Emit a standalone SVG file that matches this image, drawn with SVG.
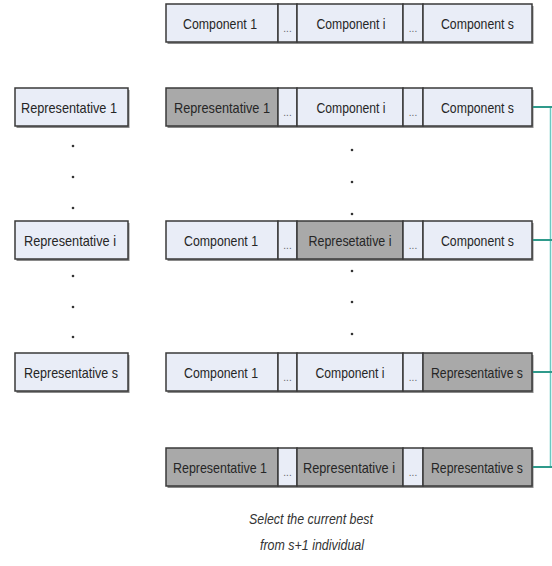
<svg xmlns="http://www.w3.org/2000/svg" width="552" height="566" viewBox="0 0 552 566">
<style>
.bg{fill:#ffffff}
.sh{fill:#8a8a8a}
.lt{fill:#e9edf7;stroke:#3a3a3a;stroke-width:1.5}
.dk{fill:#a9a9a9;stroke:#3a3a3a;stroke-width:1.5}
.t{font-family:"Liberation Sans",Arial,sans-serif;font-size:14.5px;fill:#262626;text-anchor:middle}
.el{font-family:"Liberation Sans",Arial,sans-serif;font-size:10px;fill:#666;text-anchor:middle}
.cap{font-family:"Liberation Sans",Arial,sans-serif;font-size:14px;font-style:italic;fill:#333;text-anchor:middle}
.dot{fill:#333}
.con{stroke:#2f9a8b;stroke-width:2;fill:none}
.conv{stroke:#6cc9c2;stroke-width:1.5;fill:none}
</style>
<rect class="bg" width="552" height="566"/>

<!-- Left representative boxes -->
<g id="left-rep-1">
<rect class="sh" x="16.5" y="90" width="113" height="38"/>
<rect class="lt" x="15" y="88" width="113" height="38"/>
<text class="t" x="69" y="112.5" textLength="96" lengthAdjust="spacingAndGlyphs">Representative 1</text>
</g>
<g id="left-rep-i">
<rect class="sh" x="16.5" y="223" width="113" height="38"/>
<rect class="lt" x="15" y="221" width="113" height="38"/>
<text class="t" x="70" y="245.5" textLength="92" lengthAdjust="spacingAndGlyphs">Representative i</text>
</g>
<g id="left-rep-s">
<rect class="sh" x="16.5" y="355" width="113" height="38"/>
<rect class="lt" x="15" y="353" width="113" height="38"/>
<text class="t" x="71" y="377.5" textLength="94" lengthAdjust="spacingAndGlyphs">Representative s</text>
</g>

<!-- Left dots -->
<g id="left-dots">
<circle class="dot" cx="73" cy="146" r="1.3"/>
<circle class="dot" cx="73" cy="177" r="1.3"/>
<circle class="dot" cx="73" cy="208" r="1.3"/>
<circle class="dot" cx="73" cy="276" r="1.3"/>
<circle class="dot" cx="73" cy="307" r="1.3"/>
<circle class="dot" cx="73" cy="337" r="1.3"/>
</g>

<!-- Row 1 -->
<g id="row-1">
<rect class="sh" x="167.5" y="6" width="366" height="38"/>
<rect class="lt" x="166" y="4" width="112" height="38"/>
<rect class="lt" x="278" y="4" width="19" height="38"/>
<rect class="lt" x="297" y="4" width="106" height="38"/>
<rect class="lt" x="403" y="4" width="20" height="38"/>
<rect class="lt" x="423" y="4" width="109" height="38"/>
<text class="t" x="220" y="28.5" textLength="74" lengthAdjust="spacingAndGlyphs">Component 1</text>
<text class="el" x="287.5" y="32">...</text>
<text class="t" x="351" y="28.5" textLength="69" lengthAdjust="spacingAndGlyphs">Component i</text>
<text class="el" x="413" y="32">...</text>
<text class="t" x="477.5" y="28.5" textLength="73" lengthAdjust="spacingAndGlyphs">Component s</text>
</g>

<!-- Row 2 -->
<g id="row-2">
<rect class="sh" x="167.5" y="90" width="366" height="38"/>
<rect class="dk" x="166" y="88" width="112" height="38"/>
<rect class="lt" x="278" y="88" width="19" height="38"/>
<rect class="lt" x="297" y="88" width="106" height="38"/>
<rect class="lt" x="403" y="88" width="20" height="38"/>
<rect class="lt" x="423" y="88" width="109" height="38"/>
<text class="t" x="222" y="112.5" textLength="96" lengthAdjust="spacingAndGlyphs">Representative 1</text>
<text class="el" x="287.5" y="116">...</text>
<text class="t" x="351" y="112.5" textLength="69" lengthAdjust="spacingAndGlyphs">Component i</text>
<text class="el" x="413" y="116">...</text>
<text class="t" x="477.5" y="112.5" textLength="73" lengthAdjust="spacingAndGlyphs">Component s</text>
</g>

<!-- Middle dots -->
<g id="mid-dots">
<circle class="dot" cx="352" cy="150" r="1.3"/>
<circle class="dot" cx="352" cy="182" r="1.3"/>
<circle class="dot" cx="352" cy="214" r="1.3"/>
<circle class="dot" cx="352" cy="271" r="1.3"/>
<circle class="dot" cx="352" cy="302" r="1.3"/>
<circle class="dot" cx="352" cy="334" r="1.3"/>
</g>

<!-- Row 3 -->
<g id="row-3">
<rect class="sh" x="167.5" y="223" width="366" height="38"/>
<rect class="lt" x="166" y="221" width="112" height="38"/>
<rect class="lt" x="278" y="221" width="19" height="38"/>
<rect class="dk" x="297" y="221" width="106" height="38"/>
<rect class="lt" x="403" y="221" width="20" height="38"/>
<rect class="lt" x="423" y="221" width="109" height="38"/>
<text class="t" x="221" y="245.5" textLength="74" lengthAdjust="spacingAndGlyphs">Component 1</text>
<text class="el" x="287.5" y="249">...</text>
<text class="t" x="350" y="245.5" textLength="83" lengthAdjust="spacingAndGlyphs">Represetative i</text>
<text class="el" x="413" y="249">...</text>
<text class="t" x="477.5" y="245.5" textLength="73" lengthAdjust="spacingAndGlyphs">Component s</text>
</g>

<!-- Row 4 -->
<g id="row-4">
<rect class="sh" x="167.5" y="355" width="366" height="38"/>
<rect class="lt" x="166" y="353" width="112" height="38"/>
<rect class="lt" x="278" y="353" width="19" height="38"/>
<rect class="lt" x="297" y="353" width="106" height="38"/>
<rect class="lt" x="403" y="353" width="20" height="38"/>
<rect class="dk" x="423" y="353" width="109" height="38"/>
<text class="t" x="221" y="377.5" textLength="74" lengthAdjust="spacingAndGlyphs">Component 1</text>
<text class="el" x="287.5" y="381">...</text>
<text class="t" x="350" y="377.5" textLength="69" lengthAdjust="spacingAndGlyphs">Component i</text>
<text class="el" x="413" y="381">...</text>
<text class="t" x="477" y="377.5" textLength="92" lengthAdjust="spacingAndGlyphs">Representative s</text>
</g>

<!-- Row 5 -->
<g id="row-5">
<rect class="sh" x="167.5" y="450" width="366" height="38"/>
<rect class="dk" x="166" y="448" width="112" height="38"/>
<rect class="lt" x="278" y="448" width="19" height="38"/>
<rect class="dk" x="297" y="448" width="106" height="38"/>
<rect class="lt" x="403" y="448" width="20" height="38"/>
<rect class="dk" x="423" y="448" width="109" height="38"/>
<text class="t" x="220" y="472.5" textLength="94" lengthAdjust="spacingAndGlyphs">Representative 1</text>
<text class="el" x="287.5" y="476">...</text>
<text class="t" x="349" y="472.5" textLength="92" lengthAdjust="spacingAndGlyphs">Representative i</text>
<text class="el" x="413" y="476">...</text>
<text class="t" x="477" y="472.5" textLength="92" lengthAdjust="spacingAndGlyphs">Representative s</text>
</g>

<!-- Connectors -->
<g id="connectors">
<line class="conv" x1="550.5" y1="107" x2="550.5" y2="467"/>
<line class="con" x1="533" y1="107" x2="552" y2="107"/>
<line class="con" x1="533" y1="240" x2="552" y2="240"/>
<line class="con" x1="533" y1="372" x2="552" y2="372"/>
<line class="con" x1="533" y1="467" x2="552" y2="467"/>
</g>

<!-- Caption -->
<g id="caption">
<text class="cap" x="311" y="524" textLength="124" lengthAdjust="spacingAndGlyphs">Select the current best</text>
<text class="cap" x="312" y="550" textLength="104" lengthAdjust="spacingAndGlyphs">from s+1 individual</text>
</g>
</svg>
